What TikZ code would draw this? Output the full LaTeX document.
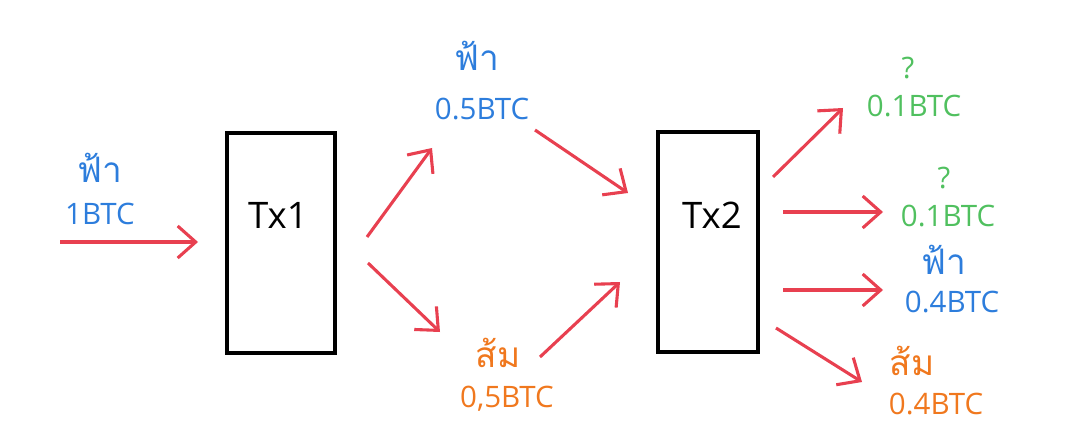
\documentclass[tikz,border=0pt]{standalone}
\usepackage{fontspec}
\setmainfont{Open Sans}
\newfontfamily\thaifont[Script=Thai]{Loma}
\usepackage{tikz}
\usetikzlibrary{arrows.meta}
\definecolor{arrred}{RGB}{232,64,80}
\definecolor{fablue}{RGB}{45,125,220}
\definecolor{somorange}{RGB}{240,120,30}
\definecolor{qgreen}{RGB}{80,192,95}
\tikzstyle{arrow} = [arrred,line width=2.2pt,-{Straight Barb[length=4.5mm,width=8mm,line width=2.2pt]}]
\tikzstyle{txbox} = [draw,line width=2.2pt,inner sep=0pt]
\tikzstyle{ownerlbl} = [font=\thaifont\fontsize{25}{25}\selectfont,inner sep=0pt]
\tikzstyle{valuelbl} = [font=\fontsize{21}{21}\selectfont,inner sep=0pt]

\begin{document}
\begin{tikzpicture}[x=0.025cm,y=-0.025cm]
\useasboundingbox (0,0) rectangle (1089,446);

% the two transactions
\node[txbox,minimum width=2.7cm,minimum height=5.5cm] (tx1) at (281,243) {};
\node[font=\fontsize{26}{26}\selectfont] (tx1lbl) at (278,215) {Tx1};
\node[txbox,minimum width=2.5cm,minimum height=5.5cm] (tx2) at (708,242) {};
\node[font=\fontsize{26}{26}\selectfont] (tx2lbl) at (712,215) {Tx2};

% labels
\node[ownerlbl,fablue] (in1) at (100,168) {ฟ้า};
\node[valuelbl,fablue] (in1v) at (100,214) {1BTC};
\node[ownerlbl,fablue] (a1) at (477,56) {ฟ้า};
\node[valuelbl,fablue] (a1v) at (482,109) {0.5BTC};
\node[ownerlbl,somorange] (b1) at (498,353) {ส้ม};
\node[valuelbl,somorange] (b1v) at (507,399) {0,5BTC};
\node[valuelbl,qgreen] (o1) at (908,68) {?};
\node[valuelbl,qgreen] (o1v) at (914,106) {0.1BTC};
\node[valuelbl,qgreen] (o2) at (944,178) {?};
\node[valuelbl,qgreen] (o2v) at (948,216) {0.1BTC};
\node[ownerlbl,fablue] (o3) at (944,260) {ฟ้า};
\node[valuelbl,fablue] (o3v) at (952,302) {0.4BTC};
\node[ownerlbl,somorange] (o4) at (912,361) {ส้ม};
\node[valuelbl,somorange] (o4v) at (936,404) {0.4BTC};

% arrow ends
\coordinate (s0) at (60,242);   \coordinate (e0) at (198,242);
\coordinate (s1) at (367,237);  \coordinate (e1) at (432,148);
\coordinate (s2) at (368,263);  \coordinate (e2) at (440,332);
\coordinate (s3) at (535,130);  \coordinate (e3) at (628,193);
\coordinate (s4) at (540,357);  \coordinate (e4) at (620,282);
\coordinate (s5) at (773,177);  \coordinate (e5) at (843,108);
\coordinate (s6) at (783,212);  \coordinate (e6) at (883,212);
\coordinate (s7) at (783,290);  \coordinate (e7) at (883,290);
\coordinate (s8) at (776,328);  \coordinate (e8) at (862,382);

\foreach \i in {0,...,8}
{
\draw[arrow] (s\i) -- (e\i);
}

\end{tikzpicture}
\end{document}
